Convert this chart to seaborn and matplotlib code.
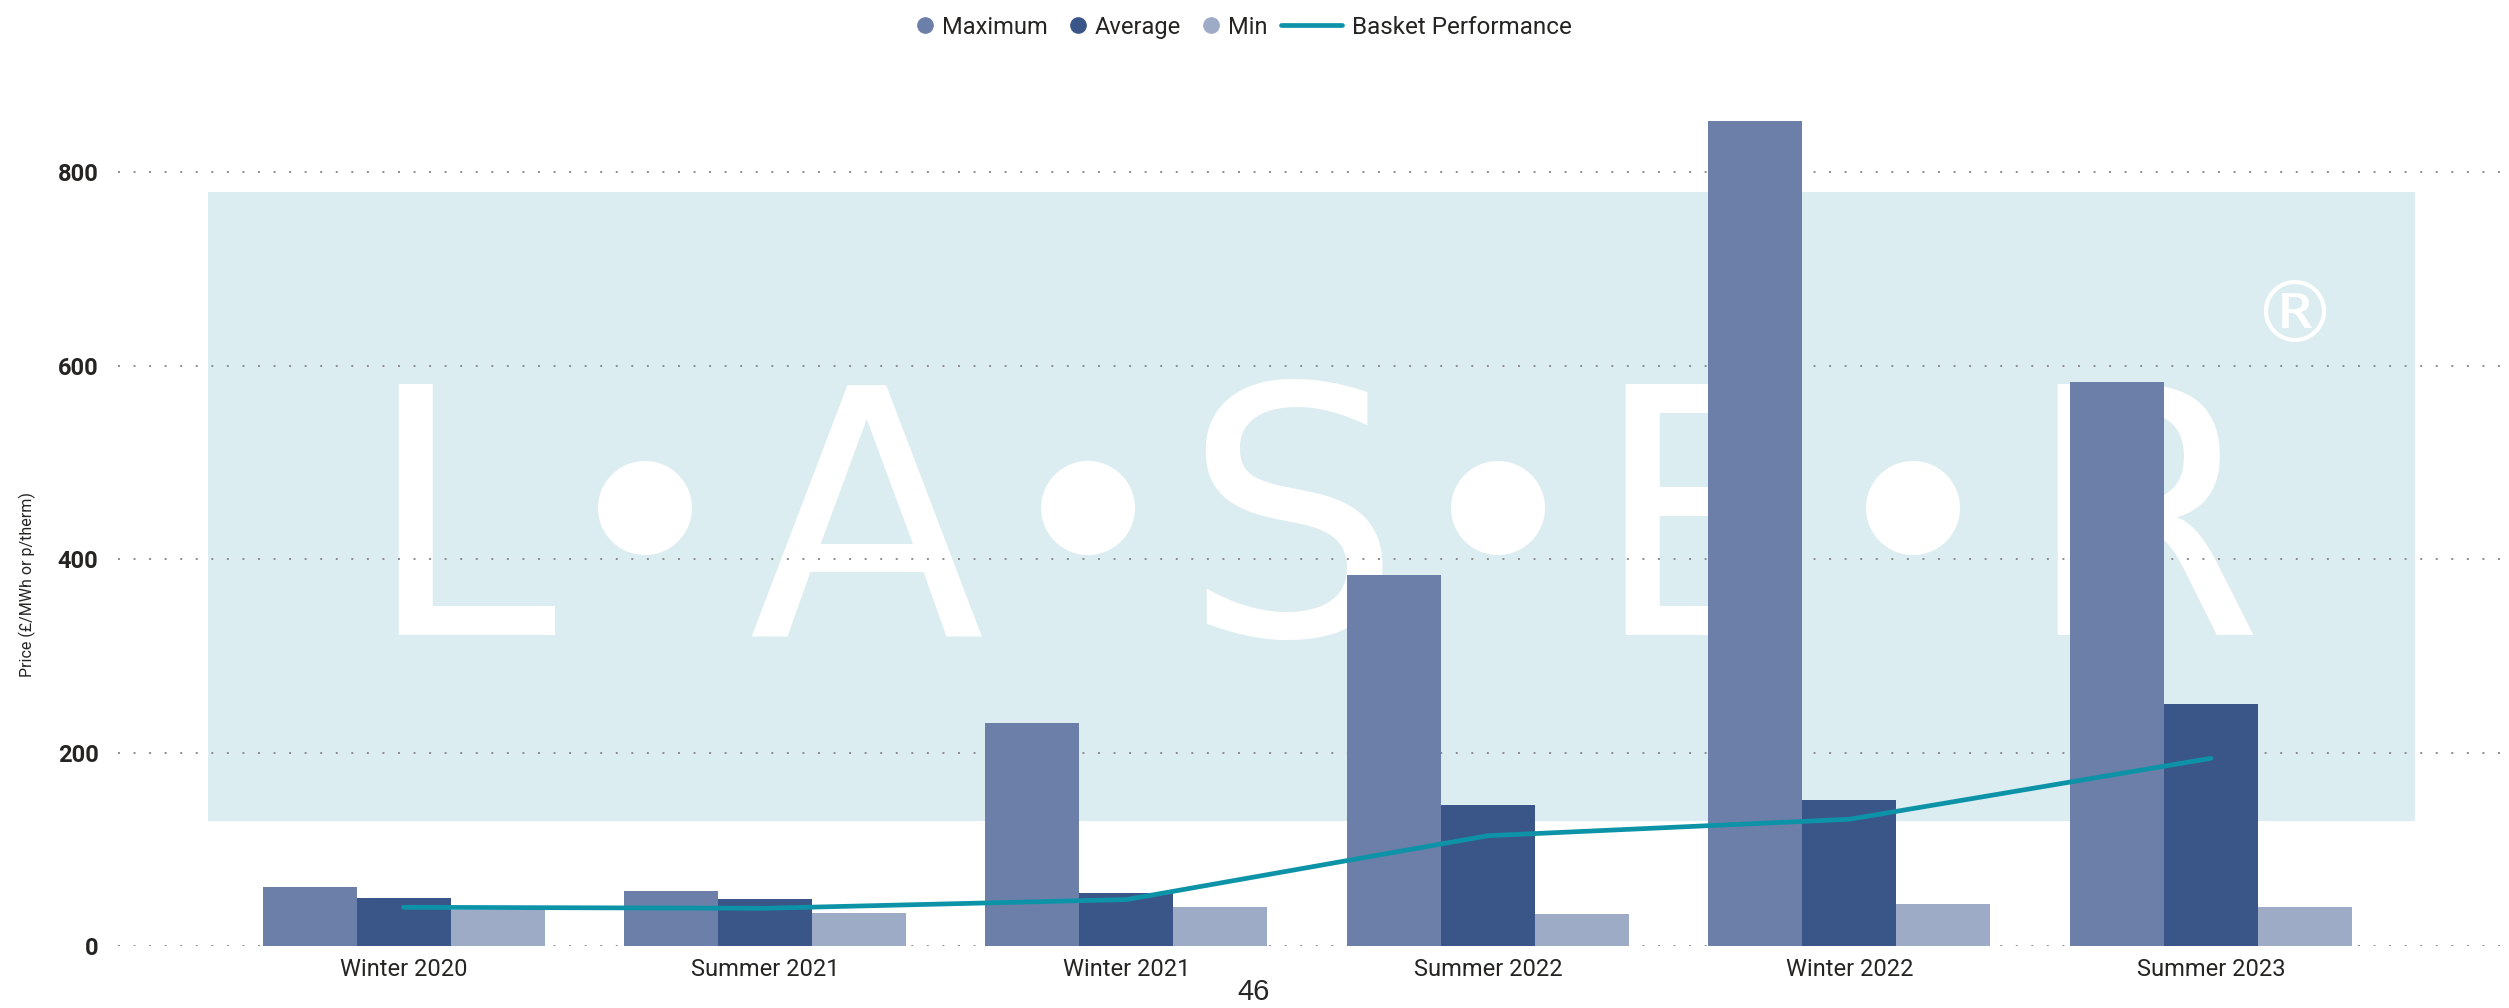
import numpy as np
import pandas as pd
import matplotlib
matplotlib.use('Agg')
import matplotlib.pyplot as plt
from matplotlib.lines import Line2D
from matplotlib.patches import Rectangle, Circle
import seaborn as sns

periods = ['Winter 2020', 'Summer 2021', 'Winter 2021', 'Summer 2022', 'Winter 2022', 'Summer 2023']
maximum = [61, 57, 230, 383, 853, 583]
average = [50, 49, 55, 146, 151, 250]
minimum = [37, 34, 40, 33, 43, 40]
basket = [40, 39, 48, 114, 131, 194]

series = ['Maximum', 'Average', 'Min']
colours = ['#6b7fa8', '#3a5689', '#9dabc7']
line_colour = '#0d93a8'
y_ticks = [0, 200, 400, 600, 800]

df = pd.DataFrame({'Period': periods, 'Maximum': maximum, 'Average': average, 'Min': minimum})
long = df.melt(id_vars='Period', var_name='Measure', value_name='Price')

sns.set_style('white')
plt.rcParams['font.family'] = ['Roboto', 'DejaVu Sans']
text_col = '#252423'

W, H = 2509, 1008
fig = plt.figure(figsize=(W / 100, H / 100), dpi=100)

# LASER watermark behind the chart, drawn in pixel coordinates
bg = fig.add_axes([0, 0, 1, 1], zorder=-1)
bg.set_xlim(0, W)
bg.set_ylim(H, 0)
bg.axis('off')
bg.add_patch(Rectangle((208, 192), 2415 - 208, 821 - 192, color='#dcedf1', lw=0))
for ch, x in zip('LASER', [460, 866, 1292, 1700, 2143]):
    bg.text(x, 635, ch, fontsize=248, color='white', ha='center', va='baseline',
            family='DejaVu Sans')
for x in [645, 1088, 1498, 1913]:
    bg.add_patch(Circle((x, 508), 47, color='white', lw=0))
bg.text(2294, 318, '\u00ae', fontsize=62, color='white', ha='center', va='center',
        family='DejaVu Sans')

ax = fig.add_axes([118 / W, 1 - 946 / H, 2382 / W, (946 - 85) / H])
ax.set_facecolor('none')

sns.barplot(data=long, x='Period', y='Price', hue='Measure', hue_order=series,
            palette=colours, width=0.78, saturation=1, linewidth=0,
            legend=False, ax=ax)
sns.lineplot(x=np.arange(len(periods)), y=basket, color=line_colour, lw=3.4, ax=ax)

ax.set_xlim(-0.79, 5.8)
ax.set_ylim(0, 890)
ax.set_yticks(y_ticks)
ax.set_axisbelow(True)
ax.grid(axis='y', color='#8c8c8c', linestyle=(0, (1, 7)), lw=1.4)
ax.grid(axis='x', visible=False)
sns.despine(ax=ax, left=True, bottom=True)
ax.tick_params(axis='x', length=0, pad=9, labelsize=17, labelcolor=text_col)
ax.tick_params(axis='y', length=0, pad=14, labelsize=17, labelcolor=text_col)
for lab in ax.get_yticklabels():
    lab.set_fontweight('semibold')
ax.set_xlabel('')
ax.set_ylabel('Price (\u00a3/MWh or p/therm)', fontsize=11.5, color=text_col)
ax.yaxis.set_label_coords(-0.0345, 0.42)

# legend: three circle markers, then the line entry
marks = [Line2D([], [], marker='o', ls='', color=c, markersize=11) for c in colours]
leg1 = fig.legend(marks, series, loc='center left', bbox_to_anchor=(0.3649, 0.973),
                  ncol=3, frameon=False, handlelength=0.8, handletextpad=0.3,
                  columnspacing=0.9, borderpad=0, borderaxespad=0, fontsize=17,
                  labelcolor=text_col)
leg2 = fig.legend([Line2D([], [], color=line_colour, lw=3.4)], ['Basket Performance'],
                  loc='center left', bbox_to_anchor=(0.5106, 0.973), frameon=False,
                  handlelength=2.5, handletextpad=0.4, borderpad=0, borderaxespad=0,
                  fontsize=17.5, labelcolor=text_col)

fig.text(1254 / W, 1 - 992 / H, '46', fontsize=21, family='Liberation Sans',
         ha='center', va='center')

fig.savefig('out.png', dpi=100)
